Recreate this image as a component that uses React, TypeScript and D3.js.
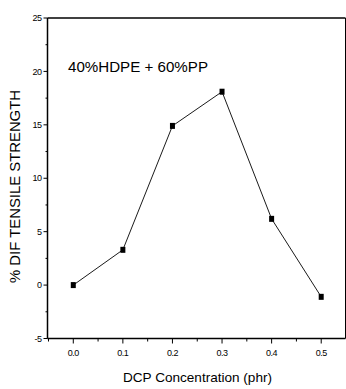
import React from "react";
import * as d3 from "d3";

const concentrations = [0.0, 0.1, 0.2, 0.3, 0.4, 0.5];
const difStrength = [0.0, 3.3, 14.9, 18.1, 6.2, -1.1];
const xTicks = [0.0, 0.1, 0.2, 0.3, 0.4, 0.5];
const xMinorTicks = [-0.05, 0.05, 0.15, 0.25, 0.35, 0.45];
const yTicks = [-5, 0, 5, 10, 15, 20, 25];
const yMinorTicks = [-2.5, 2.5, 7.5, 12.5, 17.5, 22.5];

export default function App() {
  const W = 346, H = 389;
  const left = 47.5, right = 345.5, top = 18, bottom = 338.5;
  const x = d3.scaleLinear().domain([-0.052, 0.549]).range([left, right]);
  const y = d3.scaleLinear().domain([-5, 25]).range([bottom, top]);
  const line = d3.line<number>().x((_, i) => x(concentrations[i])).y((d) => y(d));
  const font = "'Liberation Sans', Arial, sans-serif";
  return (
    <svg width={W} height={H} style={{ position: "absolute", left: 0, top: 0, background: "#fff" }}>
      <rect x={0} y={0} width={W} height={H} fill="#fff" />
      <g stroke="#000" fill="none">
        <line x1={left} y1={top} x2={right} y2={top} strokeWidth={1.5} />
        <line x1={right} y1={top} x2={right} y2={bottom} strokeWidth={1} />
        <line x1={left} y1={top} x2={left} y2={bottom} strokeWidth={1.5} />
        <line x1={left} y1={bottom} x2={right} y2={bottom} strokeWidth={1.5} />
        {yTicks.map((t) => (
          <line key={"yt" + t} x1={left - 4} x2={left} y1={y(t)} y2={y(t)} strokeWidth={1} />
        ))}
        {yMinorTicks.map((t) => (
          <line key={"ym" + t} x1={left - 2} x2={left} y1={y(t)} y2={y(t)} strokeWidth={1} />
        ))}
        {xTicks.map((t) => (
          <line key={"xt" + t} x1={x(t)} x2={x(t)} y1={bottom} y2={bottom + 5} strokeWidth={1} />
        ))}
        {xMinorTicks.map((t) => (
          <line key={"xm" + t} x1={x(t)} x2={x(t)} y1={bottom} y2={bottom + 3} strokeWidth={1} />
        ))}
      </g>
      <g fontFamily={font} fontSize={9} fill="#000">
        {yTicks.map((t) => (
          <text key={"yl" + t} x={left - 6} y={y(t)} dy="0.35em" textAnchor="end" letterSpacing={-0.5}>
            {t}
          </text>
        ))}
        {xTicks.map((t) => (
          <text key={"xl" + t} x={x(t)} y={bottom + 17} textAnchor="middle" letterSpacing={-0.5}>
            {t.toFixed(1)}
          </text>
        ))}
      </g>
      <path d={line(difStrength) || ""} fill="none" stroke="#000" strokeWidth={0.9} />
      {difStrength.map((v, i) => (
        <rect key={"p" + i} x={x(concentrations[i]) - 2.5} y={y(v) - 3} width={5} height={6} fill="#000" />
      ))}
      <text x={68} y={72} fontFamily={font} fontSize={14} textLength={140} lengthAdjust="spacingAndGlyphs" fill="#000">
        40%HDPE + 60%PP
      </text>
      <text x={123} y={382} fontFamily={font} fontSize={13.5} textLength={149} lengthAdjust="spacingAndGlyphs" fill="#000">
        DCP Concentration (phr)
      </text>
      <text
        transform={`translate(20,283) rotate(-90)`}
        fontFamily={font}
        fontSize={14}
        textLength={193}
        lengthAdjust="spacingAndGlyphs"
        fill="#000"
      >
        % DIF  TENSILE STRENGTH
      </text>
    </svg>
  );
}
